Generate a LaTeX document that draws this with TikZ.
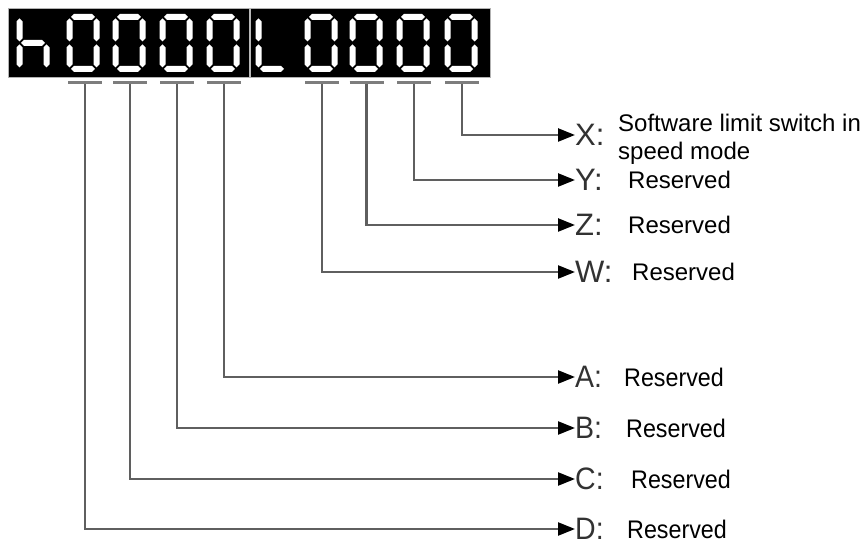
\documentclass[tikz,border=0pt]{standalone}
\usepackage{fontspec}
\setmainfont{Liberation Sans}
\usetikzlibrary{arrows.meta}
\definecolor{linegray}{RGB}{95,95,95}
\definecolor{bargray}{RGB}{125,125,125}
\definecolor{keygray}{RGB}{50,50,50}
% seven-segment pieces: horizontal and vertical hexagons (thickness 6)
\newcommand\hseg[3]{\fill[white] (#1,#3) -- ({#1+3},{#3-3}) -- ({#2-3},{#3-3}) -- (#2,#3) -- ({#2-3},{#3+3}) -- ({#1+3},{#3+3}) -- cycle;}
\newcommand\vseg[3]{\fill[white] (#1,#2) -- ({#1+3},{#2+3}) -- ({#1+3},{#3-3}) -- (#1,#3) -- ({#1-3},{#3-3}) -- ({#1-3},{#2+3}) -- cycle;}
\newcommand\sgA{\hseg{1.5}{25.5}{17}}
\newcommand\sgG{\hseg{1.5}{25.5}{43}}
\newcommand\sgD{\hseg{1.5}{25.5}{69}}
\newcommand\sgF{\vseg{0}{18.5}{41.5}}
\newcommand\sgE{\vseg{0}{44.5}{67.5}}
\newcommand\sgB{\vseg{27}{18.5}{41.5}}
\newcommand\sgC{\vseg{27}{44.5}{67.5}}
\newcommand\digZero[1]{\begin{scope}[shift={({#1-13.5},0)}]\sgA\sgB\sgC\sgD\sgE\sgF\end{scope}}
\newcommand\digH[1]{\begin{scope}[shift={({#1-13.5},0)}]\sgF\sgE\sgG\sgC\end{scope}}
\newcommand\digL[1]{\begin{scope}[shift={({#1-13.5},0)}]\sgF\sgE\sgD\end{scope}}
\begin{document}
\begin{tikzpicture}[x=1pt,y=-1pt,
  conn/.style={linegray,line width=2.4pt,-{Triangle[length=17pt,width=13pt,color=black]}},
  bar/.style={bargray,line width=3pt},
  key/.style={anchor=west,inner sep=0pt,text=keygray,font=\fontsize{31}{34}\selectfont},
  desc/.style={anchor=west,inner sep=0pt,font=\fontsize{24}{28}\selectfont}]
\useasboundingbox (0,0) rectangle (863,545);
% display
\fill[black] (8,8) rectangle (490,77);
\draw[gray!60,line width=0.8pt] (8,8) rectangle (490,77);
\draw[gray!55,line width=1.2pt] (250,8) -- (250,77);
\digH{33}
\digZero{83}\digZero{129}\digZero{176}\digZero{223}
\digL{272}
\digZero{321}\digZero{366}\digZero{413}\digZero{461}
% bars and their anchor points
\foreach \n/\cx in {D/85,C/130,B/177,A/224,W/322,Z/366.5,Y/414,X/462}{
  \draw[bar] (\cx-17,83) -- (\cx+17,83);
  \coordinate (p\n) at (\cx,84.5);
}
% keys
\node[key] (kX) at (575,135) {X:};
\node[key] (kY) at (575,180) {Y:};
\node[key] (kZ) at (575,225) {Z:};
\node[key] (kW) at (575,272) {W:};
\node[key] (kA) at (575,377) {\scalebox{0.92}[1]{A:}};
\node[key] (kB) at (575,428) {\scalebox{0.92}[1]{B:}};
\node[key] (kC) at (575,479) {\scalebox{0.92}[1]{C:}};
\node[key] (kD) at (575,529) {\scalebox{0.92}[1]{D:}};
% descriptions
\node[desc] (dX1) at (618,123) {Software limit switch in};
\node[desc] (dX2) at (618,153) {speed mode};
\node[desc] (dY) at (628,180) {Reserved};
\node[desc] (dZ) at (628,225) {Reserved};
\node[desc] (dW) at (632,272) {Reserved};
\node[desc] (dA) at (624,377) {\scalebox{0.97}[1.06]{Reserved}};
\node[desc] (dB) at (626,428) {\scalebox{0.97}[1.06]{Reserved}};
\node[desc] (dC) at (631,479) {\scalebox{0.97}[1.06]{Reserved}};
\node[desc] (dD) at (627,529) {\scalebox{0.97}[1.06]{Reserved}};
% connectors
\foreach \n in {X,Y,Z,W,A,B,C,D}{
  \draw[conn] (p\n) |- (k\n.west);
}
\end{tikzpicture}
\end{document}
